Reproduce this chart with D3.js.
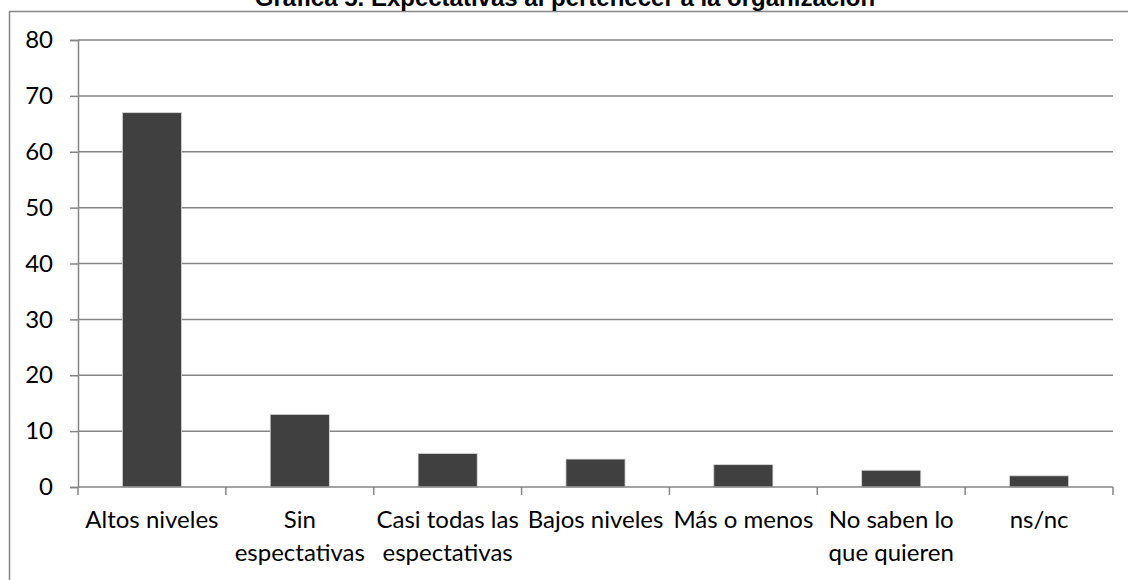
<!DOCTYPE html>
<html>
<head>
<meta charset="utf-8">
<script src="https://cdn.jsdelivr.net/npm/d3@7"></script>
<style>
  body { margin: 0; background: #fff; }
  svg text { font-family: Lato, "Noto Sans", sans-serif; fill: #000; }
</style>
</head>
<body>
<div id="chart"></div>
<script>
// chart data
var categories = ["Altos niveles", "Sin espectativas", "Casi todas las espectativas", "Bajos niveles", "Más o menos", "No saben lo que quieren", "ns/nc"];
var labelLines = [["Altos niveles"], ["Sin", "espectativas"], ["Casi todas las", "espectativas"], ["Bajos niveles"], ["Más o menos"], ["No saben lo", "que quieren"], ["ns/nc"]];
var values = [67, 13, 6, 5, 4, 3, 2];
var yTicks = [0, 10, 20, 30, 40, 50, 60, 70, 80];
var title = "Gráfica 5. Expectativas al pertenecer a la organización";

var svgWidth = 1128;
var svgHeight = 580;
var margin = { top: 40, right: 15, bottom: 93, left: 78 };
var chartWidth = svgWidth - margin.left - margin.right;
var chartHeight = svgHeight - margin.top - margin.bottom;

var svg = d3.select("#chart").append("svg")
    .attr("width", svgWidth)
    .attr("height", svgHeight);

// outer frame (cut by the page edges)
svg.append("rect")
    .attr("x", 9.5)
    .attr("y", 11.5)
    .attr("width", 1140)
    .attr("height", 600)
    .attr("fill", "none")
    .attr("stroke", "#868686")
    .attr("stroke-width", 1.5);

// title, mostly above the page as in the original
svg.append("text")
    .attr("x", 565)
    .attr("y", 6)
    .attr("text-anchor", "middle")
    .style("font-family", "'Liberation Sans', Arial, sans-serif")
    .style("font-weight", "bold")
    .style("font-size", "24px")
    .text(title);

var chartGroup = svg.append("g")
    .attr("transform", `translate(${margin.left}, ${margin.top})`);

var xScale = d3.scaleBand()
    .domain(categories)
    .range([0, chartWidth])
    .paddingInner(0.6)
    .paddingOuter(0.3);

var yScale = d3.scaleLinear()
    .domain([0, 80])
    .range([chartHeight, 0]);

// gridlines
chartGroup.append("g")
    .selectAll("line")
    .data(yTicks.filter(d => d > 0))
    .enter()
    .append("line")
    .attr("x1", 0)
    .attr("x2", chartWidth)
    .attr("y1", d => yScale(d))
    .attr("y2", d => yScale(d))
    .attr("stroke", "#868686")
    .attr("stroke-width", 1.5);

// y axis
var yAxis = d3.axisLeft(yScale).tickValues(yTicks).tickSize(8).tickPadding(17);
var yG = chartGroup.append("g").call(yAxis);
yG.selectAll("line, path").attr("stroke", "#868686").attr("stroke-width", 1.5);
yG.selectAll("text")
    .style("font-family", "Lato, sans-serif")
    .style("font-size", "24px")
    .attr("fill", "#000");

// bars
chartGroup.append("g")
    .selectAll("rect")
    .data(values)
    .enter()
    .append("rect")
    .attr("x", (d, i) => xScale(categories[i]))
    .attr("y", d => yScale(d))
    .attr("width", xScale.bandwidth())
    .attr("height", d => chartHeight - yScale(d))
    .attr("fill", "#404040")
    .attr("stroke", "#d9d9d9")
    .attr("stroke-width", 0.8);

// x axis: ticks between categories
var step = xScale.step();
var xAxisG = chartGroup.append("g")
    .attr("transform", `translate(0, ${chartHeight})`);
xAxisG.append("line")
    .attr("x1", 0)
    .attr("x2", chartWidth)
    .attr("stroke", "#868686")
    .attr("stroke-width", 1.5);
xAxisG.selectAll(".xtick")
    .data(d3.range(categories.length + 1))
    .enter()
    .append("line")
    .attr("class", "xtick")
    .attr("x1", d => d * step)
    .attr("x2", d => d * step)
    .attr("y1", 0)
    .attr("y2", 8)
    .attr("stroke", "#868686")
    .attr("stroke-width", 1.5);

// category labels
var labelG = xAxisG.selectAll(".xlabel")
    .data(categories)
    .enter()
    .append("text")
    .attr("class", "xlabel")
    .attr("text-anchor", "middle")
    .style("font-size", "24px")
    .attr("transform", d => `translate(${xScale(d) + xScale.bandwidth() / 2}, 41)`);
labelG.selectAll("tspan")
    .data((d, i) => labelLines[i])
    .enter()
    .append("tspan")
    .attr("x", 0)
    .attr("dy", (d, i) => i === 0 ? 0 : 33)
    .text(d => d);
</script>
</body>
</html>
